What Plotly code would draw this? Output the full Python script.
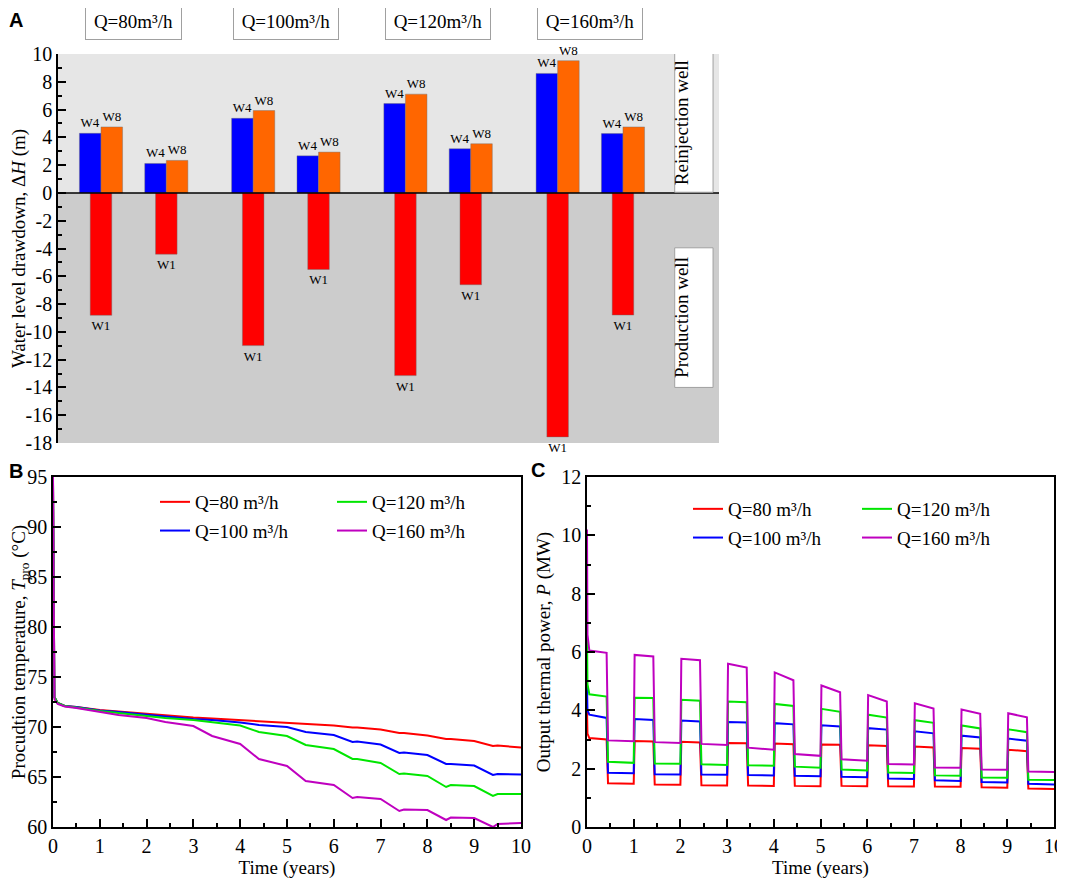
import plotly.graph_objects as go

SERIF = "Liberation Serif"
SANS = "Liberation Sans"

# ---------------- Panel A data ----------------
flow_labels = ["Q=80m³/h", "Q=100m³/h", "Q=120m³/h", "Q=160m³/h"]
w4_drawdown = [4.29, 2.12, 5.37, 2.67, 6.43, 3.18, 8.60, 4.27]
w8_drawdown = [4.75, 2.34, 5.93, 2.94, 7.11, 3.54, 9.52, 4.75]
w1_drawdown = [-8.81, -4.41, -10.99, -5.51, -13.15, -6.61, -17.56, -8.79]
drawdown_ticks = [10, 8, 6, 4, 2, 0, -2, -4, -6, -8, -10, -12, -14, -16, -18]

# ---------------- Panel B data ----------------
series_names = ["Q=80 m³/h", "Q=100 m³/h", "Q=120 m³/h", "Q=160 m³/h"]
t_temp = [0, 0.03, 0.1, 0.25, 0.5, 1, 1.4, 2, 2.4, 3, 3.4, 4, 4.4, 5, 5.4, 6,
          6.4, 6.5, 7, 7.4, 7.5, 8, 8.4, 8.5, 9, 9.4, 9.5, 10]
temp_q80 = [94.5, 73.0, 72.4, 72.1, 72.0, 71.7, 71.55, 71.3, 71.2, 70.95, 70.85,
            70.7, 70.6, 70.45, 70.3, 70.15, 69.95, 69.95, 69.75, 69.4, 69.4,
            69.15, 68.8, 68.8, 68.6, 68.1, 68.15, 67.95]
temp_q100 = [94.5, 73.0, 72.4, 72.1, 72.0, 71.65, 71.5, 71.2, 71.05, 70.8, 70.7,
             70.45, 70.2, 70.0, 69.5, 69.2, 68.5, 68.55, 68.25, 67.4, 67.45,
             67.2, 66.3, 66.3, 66.15, 65.2, 65.3, 65.25]
temp_q120 = [94.5, 73.0, 72.4, 72.1, 71.95, 71.6, 71.4, 71.1, 70.9, 70.7, 70.5,
             70.15, 69.5, 69.1, 68.2, 67.8, 66.8, 66.8, 66.4, 65.3, 65.35,
             65.1, 64.0, 64.2, 64.1, 63.1, 63.3, 63.3]
temp_q160 = [95.0, 72.8, 72.3, 72.05, 71.9, 71.5, 71.2, 70.9, 70.5, 70.1, 69.1,
             68.3, 66.8, 66.1, 64.6, 64.2, 62.9, 63.0, 62.8, 61.6, 61.75,
             61.7, 60.7, 60.95, 60.9, 60.0, 60.3, 60.4]

# ---------------- Panel C data ----------------
t_power = [0, 0.01, 0.05, 0.42, 0.45, 1.0,
           1.02, 1.42, 1.45, 2.0, 2.02, 2.42, 2.45, 3.0, 3.02, 3.42, 3.45, 4.0,
           4.02, 4.42, 4.45, 5.0, 5.02, 5.42, 5.45, 6.0, 6.02, 6.42, 6.45, 7.0,
           7.02, 7.42, 7.45, 8.0, 8.02, 8.42, 8.45, 9.0, 9.02, 9.42, 9.45, 10.0]
power_q80 = [4.0, 3.2, 3.05, 3.0, 1.5, 1.48,
             2.95, 2.93, 1.46, 1.45, 2.92, 2.9, 1.43, 1.42, 2.88, 2.87, 1.42, 1.41,
             2.86, 2.84, 1.41, 1.40, 2.83, 2.82, 1.41, 1.40, 2.8, 2.78, 1.40, 1.39,
             2.76, 2.73, 1.39, 1.38, 2.71, 2.68, 1.36, 1.35, 2.65, 2.6, 1.32, 1.30]
power_q100 = [4.8, 4.0, 3.85, 3.74, 1.86, 1.84,
              3.7, 3.67, 1.81, 1.80, 3.65, 3.62, 1.80, 1.79, 3.6, 3.58, 1.78, 1.77,
              3.56, 3.52, 1.76, 1.74, 3.49, 3.45, 1.72, 1.71, 3.39, 3.34, 1.66, 1.65,
              3.28, 3.21, 1.60, 1.58, 3.13, 3.07, 1.54, 1.53, 3.03, 2.96, 1.48, 1.46]
power_q120 = [6.6, 4.9, 4.55, 4.47, 2.24, 2.2,
              4.43, 4.42, 2.18, 2.17, 4.36, 4.33, 2.15, 2.13, 4.3, 4.28, 2.12, 2.1,
              4.22, 4.15, 2.07, 2.03, 4.05, 3.95, 1.97, 1.94, 3.85, 3.75, 1.87, 1.85,
              3.66, 3.57, 1.77, 1.76, 3.48, 3.38, 1.70, 1.69, 3.35, 3.25, 1.62, 1.61]
power_q160 = [10.2, 6.6, 6.05, 5.97, 2.97, 2.94,
              5.9, 5.85, 2.91, 2.88, 5.77, 5.72, 2.85, 2.81, 5.6, 5.47, 2.72, 2.65,
              5.3, 5.03, 2.5, 2.44, 4.85, 4.62, 2.32, 2.27, 4.52, 4.3, 2.16, 2.14,
              4.24, 4.06, 2.04, 2.03, 4.03, 3.88, 1.97, 1.96, 3.9, 3.76, 1.9, 1.89]

line_colors = ["#ff0000", "#0000ff", "#00e600", "#bf00bf"]

# ---------------- Figure ----------------
fig = go.Figure()

# bar slots: two sub-cases per flow rate, wider gap between flow rates
slots = [g * 2.33 + s + 1 for g in range(len(flow_labels)) for s in range(2)]
bw = 0.33
label_font = dict(family=SERIF, size=13, color="black")
bar_line = dict(color="rgba(110,110,110,0.7)", width=0.6)

fig.add_trace(go.Bar(x=slots, y=w4_drawdown, width=bw, offset=-bw,
                     marker=dict(color="#0000ff", line=bar_line),
                     text=["W4"] * len(slots), textposition="outside",
                     constraintext="none", cliponaxis=False, textfont=label_font,
                     showlegend=False, xaxis="x", yaxis="y"))
fig.add_trace(go.Bar(x=slots, y=w8_drawdown, width=bw, offset=0,
                     marker=dict(color="#ff6600", line=bar_line),
                     text=["W8"] * len(slots), textposition="outside",
                     constraintext="none", cliponaxis=False, textfont=label_font,
                     showlegend=False, xaxis="x", yaxis="y"))
fig.add_trace(go.Bar(x=slots, y=w1_drawdown, width=bw, offset=-bw / 2,
                     marker=dict(color="#ff0000", line=bar_line),
                     text=["W1"] * len(slots), textposition="outside",
                     constraintext="none", cliponaxis=False, textfont=label_font,
                     showlegend=False, xaxis="x", yaxis="y"))

temps = [temp_q80, temp_q100, temp_q120, temp_q160]
powers = [power_q80, power_q100, power_q120, power_q160]
legend_b = ["legend", "legend", "legend2", "legend2"]
legend_c = ["legend3", "legend3", "legend4", "legend4"]
for i, name in enumerate(series_names):
    fig.add_trace(go.Scatter(x=t_temp, y=temps[i], mode="lines", name=name,
                             line=dict(color=line_colors[i], width=2),
                             legend=legend_b[i], legendgroup="b%d" % i,
                             xaxis="x2", yaxis="y2"))
for i, name in enumerate(series_names):
    fig.add_trace(go.Scatter(x=t_power, y=powers[i], mode="lines", name=name,
                             line=dict(color=line_colors[i], width=2),
                             legend=legend_c[i], legendgroup="c%d" % i,
                             xaxis="x3", yaxis="y3"))

axis_common = dict(showline=True, linecolor="black", linewidth=1.5,
                   ticks="inside", ticklen=8, tickwidth=1.5, tickcolor="black",
                   showgrid=False, zeroline=False, automargin=False,
                   tickfont=dict(family=SERIF, size=20, color="black"))
title_font = dict(family=SERIF, size=19, color="black")

# the page body adds an 8px offset; the figure is placed so that the
# photographed window matches the reference pixel layout
OFF = 8
W, H = 1065 - OFF, 880 - OFF
def px_x(a):
    return (a - OFF) / W
def px_y(a):
    return 1 - (a - OFF) / H
def xd(a, b):
    return [px_x(a), px_x(b)]
def yd(top, bottom):
    return [px_y(bottom), px_y(top)]

fig.update_layout(
    width=W, height=H, autosize=False,
    margin=dict(l=0, r=0, t=0, b=0, autoexpand=False),
    paper_bgcolor="white", plot_bgcolor="white",
    barmode="overlay",
    font=dict(family=SERIF, size=18, color="black"),
    xaxis=dict(domain=xd(58, 719), range=[0.342, 10.46], visible=False,
               anchor="y", automargin=False),
    yaxis=dict(domain=yd(54, 443), range=[-18, 10], anchor="x",
               tickmode="array", tickvals=drawdown_ticks,
               ticktext=[str(v) for v in drawdown_ticks],
               minor=dict(dtick=1, tick0=0, ticks="inside", ticklen=4,
                          tickwidth=1.5, tickcolor="black"),
               title=dict(text="Water level drawdown, Δ<i>H</i> (m)",
                          font=title_font, standoff=11),
               **axis_common),
    xaxis2=dict(domain=xd(53, 521), range=[0, 10], dtick=1, anchor="y2",
                mirror=True,
                minor=dict(dtick=0.5, ticks="inside", ticklen=4, tickwidth=1.5,
                           tickcolor="black"),
                title=dict(text="Time (years)", font=title_font, standoff=0),
                **axis_common),
    yaxis2=dict(domain=yd(477, 827), range=[60, 95], dtick=5, anchor="x2",
                mirror=True,
                minor=dict(dtick=2.5, ticks="inside", ticklen=4, tickwidth=1.5,
                           tickcolor="black"),
                title=dict(text="Procudtion temperature, <i>T</i><sub>pro</sub> (°C)",
                           font=title_font, standoff=10),
                **axis_common),
    xaxis3=dict(domain=xd(587, 1054), range=[0, 10], dtick=1, anchor="y3",
                mirror=True,
                minor=dict(dtick=0.5, ticks="inside", ticklen=4, tickwidth=1.5,
                           tickcolor="black"),
                title=dict(text="Time (years)", font=title_font, standoff=0),
                **axis_common),
    yaxis3=dict(domain=yd(477, 827), range=[0, 12], dtick=2, anchor="x3",
                mirror=True,
                minor=dict(dtick=1, ticks="inside", ticklen=4, tickwidth=1.5,
                           tickcolor="black"),
                title=dict(text="Output thermal power, <i>P</i> (MW)",
                           font=title_font, standoff=6),
                **axis_common),
)

legend_style = dict(bgcolor="rgba(0,0,0,0)", borderwidth=0, tracegroupgap=1,
                    font=dict(family=SERIF, size=19, color="black"),
                    xanchor="left", yanchor="top", orientation="v")
fig.update_layout(
    legend=dict(x=px_x(155), y=px_y(483), **legend_style),
    legend2=dict(x=px_x(332), y=px_y(483), **legend_style),
    legend3=dict(x=px_x(688), y=px_y(490), **legend_style),
    legend4=dict(x=px_x(857), y=px_y(490), **legend_style),
)

shapes = [
    dict(type="rect", xref="x domain", yref="y", x0=0, x1=1, y0=0, y1=10,
         fillcolor="#e6e6e6", line=dict(width=0), layer="below"),
    dict(type="rect", xref="x domain", yref="y", x0=0, x1=1, y0=-18, y1=0,
         fillcolor="#cccccc", line=dict(width=0), layer="below"),
    dict(type="line", xref="x domain", yref="y", x0=0, x1=1, y0=0, y1=0,
         line=dict(color="black", width=1.5)),
    dict(type="rect", xref="x domain", yref="y", x0=0.933, x1=0.991,
         y0=0.05, y1=10.1, fillcolor="white",
         line=dict(color="#a0a0a0", width=1)),
    dict(type="rect", xref="x domain", yref="y", x0=0.933, x1=0.991,
         y0=-14.0, y1=-3.95, fillcolor="white",
         line=dict(color="#a0a0a0", width=1)),
]
fig.update_layout(shapes=shapes)

annotations = []
group_centers = [(slots[2 * g] + slots[2 * g + 1]) / 2 for g in range(len(flow_labels))]
for g, lab in enumerate(flow_labels):
    annotations.append(dict(
        text=lab, x=group_centers[g], xref="x", y=px_y(21.5), yref="paper",
        showarrow=False, font=dict(family=SERIF, size=19, color="black"),
        bgcolor="white", bordercolor="#a0a0a0", borderwidth=1, borderpad=0,
        width=95 if len(lab) < 9 else 104, height=36,
        xanchor="center", yanchor="middle"))
annotations.append(dict(text="Reinjection well", textangle=-90,
                        x=0.962, xref="x domain", y=5.05, yref="y",
                        showarrow=False,
                        font=dict(family=SERIF, size=19, color="black")))
annotations.append(dict(text="Production well", textangle=-90,
                        x=0.962, xref="x domain", y=-8.97, yref="y",
                        showarrow=False,
                        font=dict(family=SERIF, size=19, color="black")))
for lab, px, py in [("A", 16, 20), ("B", 16, 471), ("C", 538, 470)]:
    annotations.append(dict(text="<b>%s</b>" % lab, x=px_x(px), y=px_y(py),
                            xref="paper", yref="paper", showarrow=False,
                            xanchor="center", yanchor="middle",
                            font=dict(family=SANS, size=20, color="black")))
fig.update_layout(annotations=annotations)

fig.write_html("out.html")
